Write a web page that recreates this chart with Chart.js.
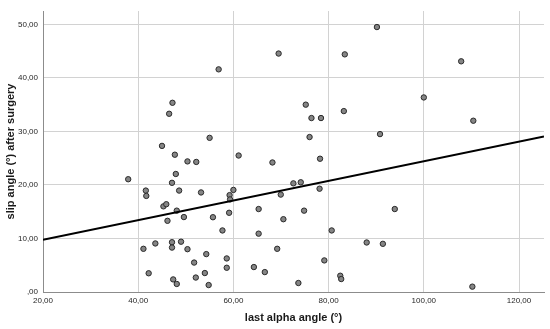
<!DOCTYPE html>
<html>
<head>
<meta charset="utf-8">
<script src="https://cdn.jsdelivr.net/npm/chart.js@4/dist/chart.umd.min.js"></script>
<style>
  html, body { margin: 0; padding: 0; background: #fff; }
  canvas { display: block; }
</style>
</head>
<body>
<canvas id="myChart" width="550" height="329"></canvas>
<script>
// last alpha angle (°)
const alphaAngle = [
    47.2, 46.5, 45.0, 47.7, 50.35, 52.2, 90.15, 69.5, 83.4, 56.9,
    75.2, 76.4, 78.4, 83.2, 55.0, 76.0, 90.8, 61.1, 78.2, 107.85,
    100.0, 110.4, 37.9, 47.9, 47.1, 41.6, 41.7, 48.6, 45.3, 45.9,
    48.1, 46.15, 49.6, 53.2, 41.1, 43.6, 47.1, 49.0, 47.1, 50.35,
    42.2, 51.75, 52.1, 47.35, 48.1, 68.2, 59.2, 59.3, 60.0, 72.6,
    74.15, 69.95, 78.1, 55.7, 59.1, 65.3, 74.85, 70.5, 57.7, 65.3,
    80.65, 69.2, 88.0, 54.3, 58.6, 58.6, 64.3, 79.1, 54.0, 66.6,
    54.8, 73.65, 82.45, 82.65, 93.9, 91.4, 110.2
]
// slip angle (°) after surgery
const slipAngle = [
    35.35, 33.3, 27.3, 25.65, 24.4, 24.3, 49.5, 44.55, 44.4, 41.6,
    35.0, 32.5, 32.5, 33.8, 28.8, 28.95, 29.5, 25.5, 24.9, 43.1,
    36.35, 32.0, 21.07, 22.05, 20.4, 18.95, 17.95, 18.95, 16.0, 16.4,
    15.2, 13.3, 14.0, 18.6, 8.07, 9.07, 9.3, 9.4, 8.3, 8.0,
    3.5, 5.5, 2.7, 2.35, 1.5, 24.2, 18.1, 17.3, 19.07, 20.3,
    20.5, 18.2, 19.3, 13.97, 14.8, 15.5, 15.2, 13.6, 11.5, 10.9,
    11.5, 8.07, 9.25, 7.08, 6.27, 4.53, 4.66, 5.9, 3.54, 3.72,
    1.3, 1.68, 3.04, 2.42, 15.5, 9.0, 1.0
]
// fit line, read at both ends of the plot
const fitX = [20, 125.25]
const fitY = [9.75, 29.07]

const xTicks = [20, 40, 60, 80, 100, 120]
const yTicks = [0, 10, 20, 30, 40, 50]

function fmt(v) {
    // SPSS style: ",00" for zero, comma decimals
    if (v === 0) return ',00'
    return v.toFixed(2).replace('.', ',')
}

const points = []
for (let i = 0; i < alphaAngle.length; i++) {
    points.push({ x: alphaAngle[i], y: slipAngle[i] })
}
const fitPoints = fitX.map((x, i) => ({ x: x, y: fitY[i] }))

const tickFont = { family: "'Liberation Sans', Arial, sans-serif", size: 8 }
const titleFont = { family: "'Liberation Sans', Arial, sans-serif", size: 11, weight: 'bold' }

let ctx = document.getElementById('myChart')
const config = {
    type: 'scatter',
    data: {
        datasets: [{
            label: 'fit',
            type: 'line',
            data: fitPoints,
            borderColor: '#000',
            borderWidth: 2,
            pointRadius: 0,
            fill: false,
            order: 0
        }, {
            label: 'slip angle',
            data: points,
            pointRadius: 2.7,
            pointBackgroundColor: '#858585',
            pointBorderColor: '#2a2a2a',
            pointBorderWidth: 1,
            order: 1
        }]
    },
    options: {
        responsive: false,
        animation: false,
        layout: { padding: { top: 11, right: 6, left: 0, bottom: 0 } },
        plugins: {
            legend: { display: false },
            tooltip: { enabled: false }
        },
        scales: {
            x: {
                type: 'linear',
                min: 20,
                max: 125.25,
                afterBuildTicks: (scale) => { scale.ticks = xTicks.map(v => ({ value: v })) },
                afterFit: (scale) => { scale.height = 37 },
                grid: { color: '#d2d2d2', drawTicks: false },
                border: { color: '#8c8c8c', width: 1 },
                ticks: { font: tickFont, color: '#262626', padding: 4, maxRotation: 0, callback: (v) => fmt(v) },
                title: { display: true, text: 'last alpha angle (°)', font: titleFont, color: '#1a1a1a', padding: { top: 4, bottom: 4 } }
            },
            y: {
                type: 'linear',
                min: 0,
                max: 52.5,
                afterBuildTicks: (scale) => { scale.ticks = yTicks.map(v => ({ value: v })) },
                afterFit: (scale) => { scale.width = 43 },
                grid: { color: '#d2d2d2', drawTicks: false },
                border: { color: '#8c8c8c', width: 1 },
                ticks: { font: tickFont, color: '#262626', padding: 5, callback: (v) => fmt(v) },
                title: { display: true, text: 'slip angle (°) after surgery', font: titleFont, color: '#1a1a1a', padding: { top: 4, bottom: 4 } }
            }
        }
    }
}

const myChart = new Chart(ctx, config)
</script>
</body>
</html>
